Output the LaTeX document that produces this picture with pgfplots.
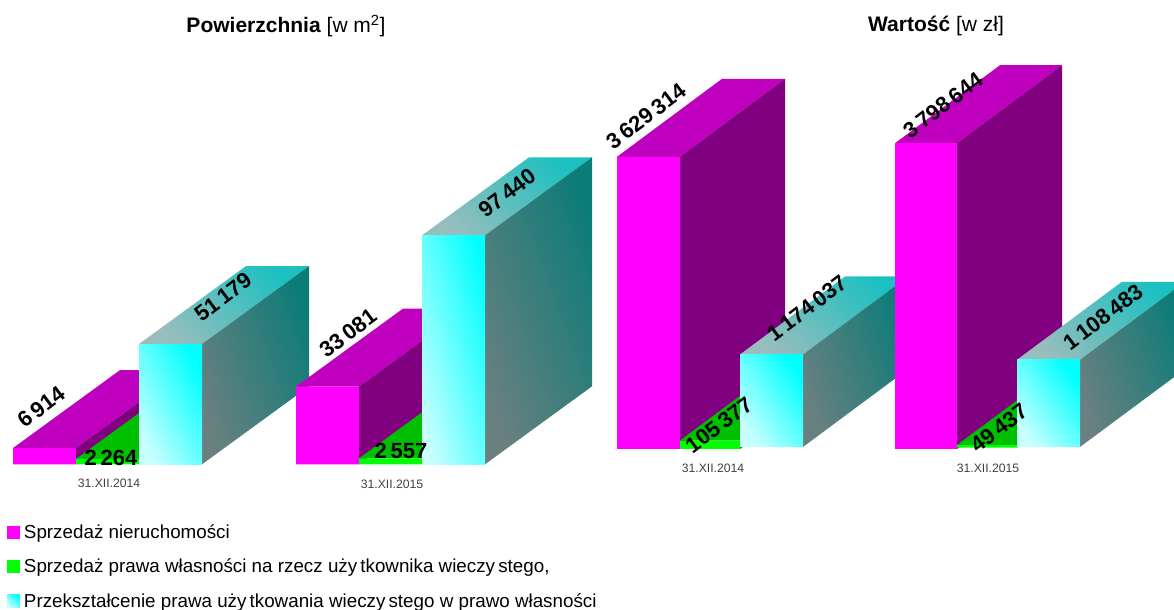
\documentclass[border=0pt]{standalone}
\usepackage{fontspec}
\setmainfont{Liberation Sans}
\usepackage{pgfplots}
\pgfplotsset{compat=1.18}
\definecolor{mF}{HTML}{FF00FF}\definecolor{mS}{HTML}{800080}\definecolor{mT}{HTML}{BF00BF}
\definecolor{gF}{HTML}{00FF00}\definecolor{gS}{HTML}{008000}\definecolor{gT}{HTML}{00BF00}
\definecolor{cA}{HTML}{C8FFFF}\definecolor{cB}{HTML}{00FFFF}
\definecolor{cC}{HTML}{98BDBD}\definecolor{cD}{HTML}{1CC0C0}
\definecolor{cE}{HTML}{6A8080}\definecolor{cF}{HTML}{0C7C78}
\newcommand{\gap}{\kern0.17em}
\pgfplotsset{
  face/.style={draw=none,forget plot,no markers},
  mfront/.style={face,fill=mF}, mside/.style={face,fill=mS}, mtop/.style={face,fill=mT},
  gfront/.style={face,fill=gF}, gside/.style={face,fill=gS}, gtop/.style={face,fill=gT},
  cfront/.style={face,top color=cB,bottom color=cA,shading angle=#1},
  cside/.style={face,top color=cF,bottom color=cE,shading angle=-70},
  ctop/.style={face,top color=cD,bottom color=cC,shading angle=-45},
  panel/.style={scale only axis,width=1174bp,height=610bp,at={(0,0)},anchor=south west,
    hide axis,xmin=0,xmax=1174,clip=true},
}
% #1 left px, #2 width px, #3 base, #4 value, #5 family (m, g or c), #6 shading angle of the front
\newcommand{\solid}[6]{%
  \pgfmathsetmacro\xb{#1+#2}\pgfmathsetmacro\xc{#1+\dpx}\pgfmathsetmacro\xd{#1+#2+\dpx}%
  \pgfmathsetmacro\bt{#3+\dpy}\pgfmathsetmacro\vt{#4+\dpy}%
  \addplot[#5top] coordinates {(#1,#4) (\xb,#4) (\xd,\vt) (\xc,\vt) (#1,#4)};
  \addplot[#5side] coordinates {(\xb,#3) (\xd,\bt) (\xd,\vt) (\xb,#4) (\xb,#3)};
  \addplot[#5front=#6] coordinates {(#1,#3) (\xb,#3) (\xb,#4) (#1,#4) (#1,#3)};
}
\newcommand{\val}[4]{\node[rotate=#3,font=\bfseries\fontsize{22bp}{22bp}\selectfont,inner sep=0pt] at ({#1*1bp},{(610-#2)*1bp}) {#4};}
\newcommand{\dat}[3]{\node[font=\fontsize{12.2bp}{12.2bp}\selectfont,text=black!75,inner sep=0pt] at ({#1*1bp},{(610-#2)*1bp}) {#3};}
\begin{document}
\begin{tikzpicture}
\useasboundingbox (0,0) rectangle (1174bp,610bp);
% left panel, y in thousands of m2
\begin{axis}[panel,ymin=-62,ymax=197.6,
  legend cell align=left,
  legend style={at={(axis cs:7,-24.8)},anchor=north west,draw=none,fill=none,inner sep=0pt,outer sep=0pt,
    row sep=15bp,font=\fontsize{18.8bp}{20bp}\selectfont},
  legend image code/.code={\path[#1] (0bp,-6.5bp) rectangle (13bp,6.5bp);\path (0bp,0bp) -- (15bp,0bp);}]
\def\dpx{107}\def\dpy{33.19}
\solid{13}{63}{0}{6.914}{m}{0}
\solid{76}{63}{0}{2.264}{g}{0}
\solid{139}{63}{0}{51.179}{c}{-62}
\solid{296}{63}{0}{33.081}{m}{0}
\solid{359}{63}{0}{2.557}{g}{0}
\solid{422}{63}{0}{97.44}{c}{-75}
\addlegendimage{fill=mF,draw=none}\addlegendentry{Sprzedaż nieruchomości}
\addlegendimage{fill=gF,draw=none}\addlegendentry{Sprzedaż prawa własności na rzecz uży\,tkownika wieczy\,stego,}
\addlegendimage{top color=cB,bottom color=cA,shading angle=-45,draw=none}\addlegendentry{Przekształcenie prawa uży\,tkowania wieczy\,stego w prawo własności}
\end{axis}
% right panel, y in thousands of zl
\begin{axis}[panel,ymin=-2000,ymax=5577.6]
\def\dpx{105}\def\dpy{968.9}
\solid{617}{63}{0}{3629.314}{m}{0}
\solid{680}{60}{0}{105.377}{g}{0}
\solid{740}{63}{25}{1174.037}{c}{-56}
\solid{895}{62}{0}{3798.644}{m}{0}
\solid{957}{60}{16}{49.437}{g}{0}
\solid{1017}{63}{25}{1108.483}{c}{-54}
\end{axis}
\node[font=\fontsize{21bp}{22bp}\selectfont,inner sep=0pt] at ({286*1bp},{(610-26)*1bp}) {\textbf{Powierzchnia} [w m\textsuperscript{2}]};
\node[font=\fontsize{21bp}{22bp}\selectfont,inner sep=0pt] at ({936*1bp},{(610-26)*1bp}) {\textbf{Wartość} [w zł]};
\val{41}{407}{37}{6\gap 914}
\val{111}{458}{0}{2\gap 264}
\val{223}{297}{37}{51\gap 179}
\val{348}{333}{37}{33\gap 081}
\val{401}{451}{0}{2\gap 557}
\val{507}{193}{37}{97\gap 440}
\val{646}{116}{37}{3\gap 629\gap 314}
\val{719}{425}{37}{105\gap 377}
\val{807}{308}{37}{1\gap 174\gap 037}
\val{943}{105}{37}{3\gap 798\gap 644}
\val{999}{428}{37}{49\gap 437}
\val{1103}{317}{37}{1\gap 108\gap 483}
\dat{109}{483}{31.XII.2014}
\dat{392}{484}{31.XII.2015}
\dat{713}{468}{31.XII.2014}
\dat{988}{468}{31.XII.2015}
\end{tikzpicture}
\end{document}
